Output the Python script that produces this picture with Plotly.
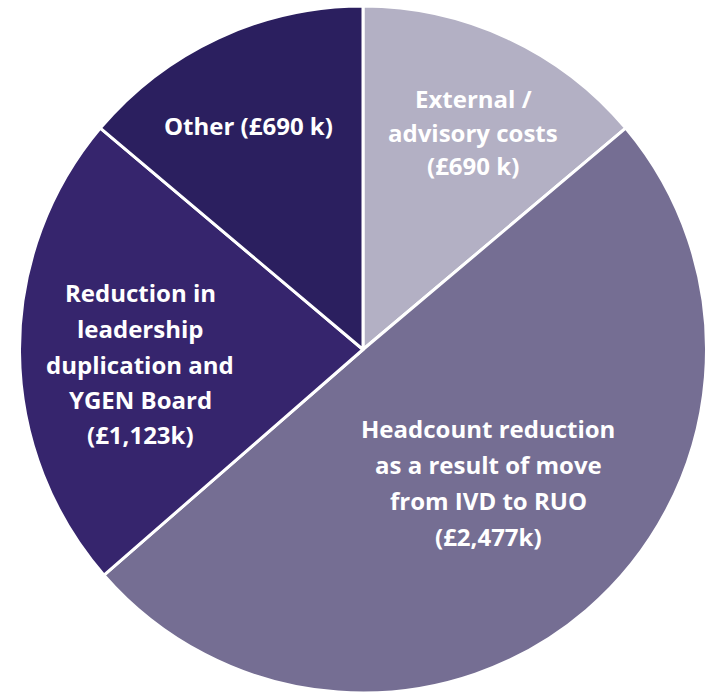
import plotly.graph_objects as go

categories = ["External / advisory costs", "Headcount reduction as a result of move from IVD to RUO",
              "Reduction in leadership duplication and YGEN Board", "Other"]
values_k = [690, 2477, 1123, 690]
colors = ["#B3B0C4", "#756E93", "#36256D", "#2B1F5F"]

label_lines = [
    ["External /", "advisory costs", "(£690 k)"],
    ["Headcount reduction", "as a result of move", "from IVD to RUO", "(£2,477k)"],
    ["Reduction in", "leadership", "duplication and", "YGEN Board", "(£1,123k)"],
    ["Other (£690 k)"],
]
# label block anchor (first line centre) in page pixels, and line spacing
label_anchor_px = [(473, 98), (488, 428), (140, 293), (248, 125)]
line_gap_px = [34, 36, 35.5, 0]

W, H = 707, 693

fig = go.Figure(go.Pie(
    labels=categories,
    values=values_k,
    marker=dict(colors=colors, line=dict(color="white", width=3)),
    sort=False,
    direction="clockwise",
    rotation=0,
    textinfo="none",
    hoverinfo="label+value",
    showlegend=False,
    domain=dict(x=[19 / W, 1.0], y=[0.0, 1 - 6 / H]),
))

annotations = []
for lines, (ax, ay), gap in zip(label_lines, label_anchor_px, line_gap_px):
    for i, line in enumerate(lines):
        py = ay + i * gap
        annotations.append(dict(
            text=line, showarrow=False, xref="paper", yref="paper",
            x=ax / W, y=1 - py / H,
            xanchor="center", yanchor="middle",
            font=dict(family="Open Sans", size=24, color="white", weight="bold"),
        ))

fig.update_layout(
    width=W, height=H,
    margin=dict(l=0, r=0, t=0, b=0),
    paper_bgcolor="white", plot_bgcolor="white",
    annotations=annotations,
)

fig.write_html("out.html", config={"displayModeBar": False},
               post_script="document.body.style.margin='0';")
